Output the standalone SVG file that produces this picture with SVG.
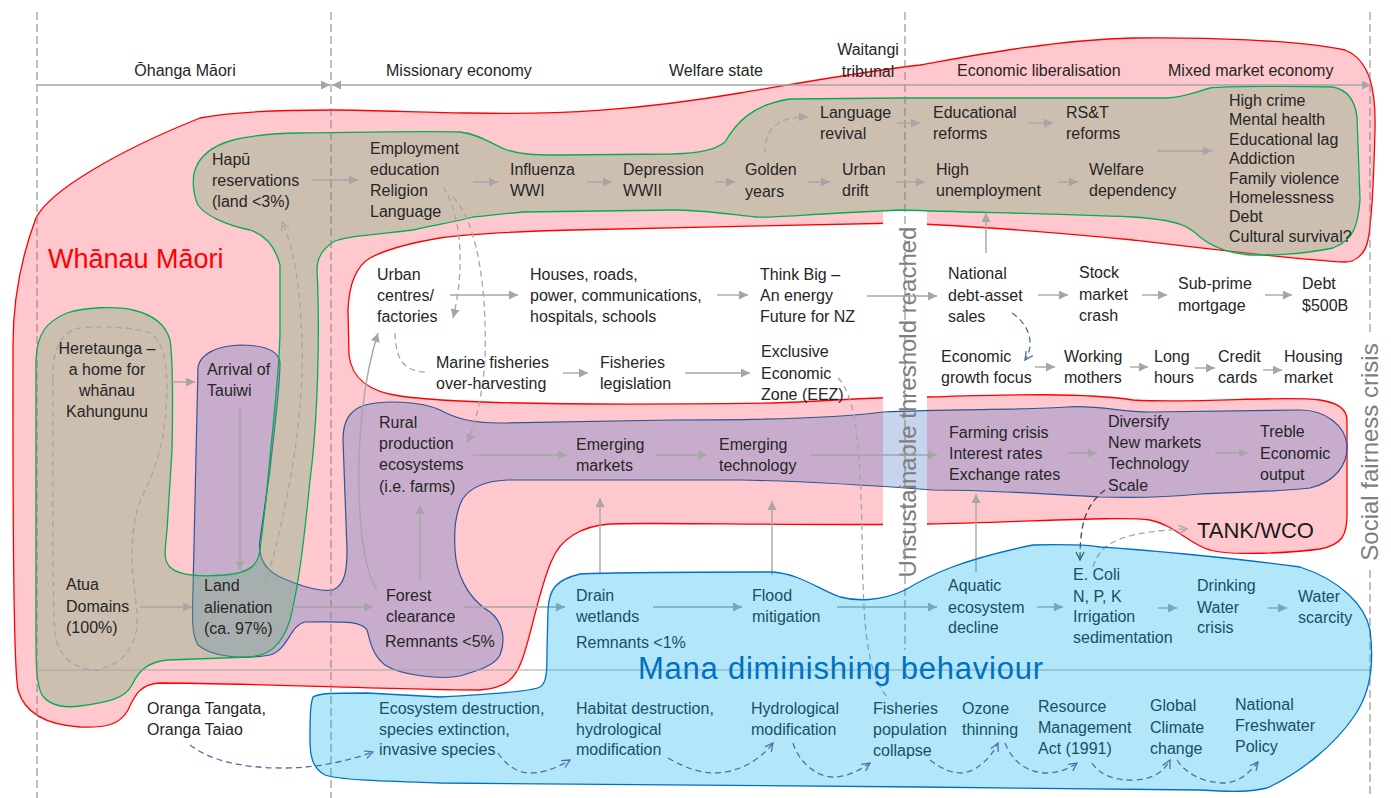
<svg xmlns="http://www.w3.org/2000/svg" width="1391" height="798" viewBox="0 0 1391 798">
<style>
.t{font-family:"Liberation Sans",Arial,sans-serif;font-size:16px;fill:#262626}
.big{font-family:"Liberation Sans",Arial,sans-serif}
.grid{stroke:#808080;stroke-width:1;stroke-dasharray:8,4;fill:none}
.ar{stroke:#A6A6A6;stroke-width:1.4;fill:none;marker-end:url(#ah)}
.da{stroke:#A6A6A6;stroke-width:1.3;fill:none;stroke-dasharray:6,4}
.bd{stroke:#4F6FA8;stroke-width:1.3;fill:none;stroke-dasharray:6,4;marker-end:url(#ob)}
</style>
<defs>
<marker id="ah" markerWidth="9" markerHeight="9" refX="9" refY="4.5" orient="auto-start-reverse" markerUnits="userSpaceOnUse"><path d="M0,0 L9,4.5 L0,9 z" fill="#A6A6A6"/></marker>
<marker id="og" markerWidth="10" markerHeight="10" refX="9" refY="5" orient="auto" markerUnits="userSpaceOnUse"><path d="M1,1 L9,5 L1,9" fill="none" stroke="#A6A6A6" stroke-width="1.3"/></marker>
<marker id="ob" markerWidth="10" markerHeight="10" refX="9" refY="5" orient="auto" markerUnits="userSpaceOnUse"><path d="M1,1 L9,5 L1,9" fill="none" stroke="#4F6FA8" stroke-width="1.3"/></marker>
<marker id="od" markerWidth="10" markerHeight="10" refX="9" refY="5" orient="auto" markerUnits="userSpaceOnUse"><path d="M1,1 L9,5 L1,9" fill="none" stroke="#404040" stroke-width="1.3"/></marker>
</defs>

<g id="whanau-maori">
<path d="M36,218 C50,190 120,150 200,118 C240,110 300,110 333,110 C380,110 430,113 470,113 C560,115 640,110 740,93 C800,83 860,72 920,65 C960,58 1050,40 1133,38 C1200,37 1300,40 1345,50 C1370,60 1376,90 1375,130 C1374,170 1372,220 1368,240 C1365,255 1355,262 1345,262 C1300,260 1200,248 1133,240 C1060,233 980,226 900,223 C800,225 650,228 573,230 C500,232 460,235 440,238 C410,243 385,250 370,258 C355,267 349,285 348,310 L349,355 C352,380 370,392 400,396 C420,399 440,400 460,401 C520,404 620,405 773,403 C830,401 870,397 927,397 C1000,395 1080,392 1133,400 C1200,404 1280,395 1320,400 C1340,403 1347,410 1347,420 L1347,515 C1347,535 1342,545 1320,549 C1290,553 1230,556 1210,550 C1190,545 1175,525 1150,520 C1120,516 1030,522 927,524 C800,526 650,522 610,524 C580,526 560,540 552,560 C540,585 530,640 522,660 C515,680 505,688 480,690 C400,690 250,683 160,683 C140,684 135,695 128,710 C120,725 105,728 80,727 C50,725 25,715 18,690 C12,660 13,400 13,345 C13,300 22,255 36,218 Z" fill="#FFC7CE" stroke="#FF0000" stroke-width="1.3"/>
<rect x="883" y="211" width="44" height="316" fill="#FFFFFF"/>
<text class="big" x="48" y="268" font-size="27" fill="#FF0000">Whānau Māori</text>
</g>

<g id="rural-band">
<path d="M198,367 C200,355 215,346 240,345 C262,345 278,350 280,362 C280,390 274,430 270,470 L260,540 C258,555 262,568 280,577 C300,586 320,592 333,590 C345,585 347,570 347,550 L343,440 C343,420 350,410 365,405 C385,400 420,401 440,410 C455,418 470,423 500,423 L673,420 C760,420 840,418 883,412 C950,409 1030,410 1067,407 C1100,405 1120,412 1150,412 L1300,410 C1325,410 1345,425 1347,445 C1348,465 1335,482 1310,488 C1280,492 1230,492 1200,494 C1170,497 1130,498 1100,497 C1050,494 990,490 933,490 C880,486 800,481 740,480 L507,480 C485,481 470,487 462,500 C455,515 454,530 455,550 C456,570 465,597 490,612 C503,622 506,640 500,655 C495,665 480,670 460,676 C440,680 400,675 385,665 C372,655 370,640 367,630 C360,620 340,622 305,622 C290,625 288,650 270,655 C240,660 210,656 198,645 C192,635 192,620 193,590 L198,367 Z" fill="#4472C4" fill-opacity="0.3" stroke="#2F5597" stroke-width="1.2"/>
</g>

<g id="hapu-band">
<path d="M300,133 C380,132 420,131 460,132 C480,134 495,146 507,150 C520,154 530,155 560,155 L673,154 C700,153 715,150 725,142 C735,125 750,105 790,99 L900,98 C1000,98 1100,98 1167,98 C1185,97 1195,92 1210,88 C1225,86 1300,86 1333,87 C1348,90 1355,100 1357,117 L1360,200 C1358,225 1354,240 1333,248 C1300,255 1270,255 1250,255 C1225,253 1210,245 1200,237 C1190,227 1180,220 1133,217 C1060,214 1000,213 900,210 L840,213 C800,215 770,218 757,217 C720,213 700,210 673,210 L523,212 C500,214 485,216 473,217 C460,221 440,224 413,230 C380,234 345,236 333,242 C322,250 317,258 317,270 C320,330 318,420 310,480 C305,530 300,580 290,620 C282,645 270,655 250,657 L167,660 C150,662 140,668 132,685 C125,698 110,702 80,706 C65,708 50,706 42,695 C37,685 36,670 36,640 L36,360 C37,335 45,322 67,313 C85,307 115,306 133,310 C150,314 165,322 170,340 C173,360 173,400 172,450 L167,530 C165,550 163,560 170,567 C178,575 200,577 225,575 C250,573 258,565 260,550 L266,500 C272,430 280,370 280,330 L280,265 C275,245 265,235 250,230 C225,225 205,215 198,205 C193,195 192,178 195,170 C200,155 215,145 233,140 C255,135 280,133 300,133 Z" fill="#6DB378" fill-opacity="0.35" stroke="#00B050" stroke-width="1.3"/>
<path d="M53,380 C52,350 60,332 80,328 C105,325 135,328 150,333 C162,340 167,360 167,390 C166,430 160,460 145,490 C135,510 132,530 132,560 C133,590 138,605 137,625 C135,650 120,665 97,670 C78,670 60,660 55,635 C52,600 53,450 53,380 Z" class="da"/>
</g>

<g id="timeline">
<line x1="37" y1="12" x2="37" y2="798" class="grid"/>
<line x1="331" y1="12" x2="331" y2="798" class="grid"/>
<line x1="905" y1="12" x2="905" y2="650" class="grid"/>
<line x1="1370" y1="12" x2="1370" y2="335" class="grid"/>
<line x1="1370" y1="570" x2="1370" y2="798" class="grid"/>
<line x1="37" y1="85" x2="330" y2="85" stroke="#A6A6A6" stroke-width="1.5" marker-end="url(#ah)"/>
<line x1="332" y1="85" x2="1371" y2="85" stroke="#A6A6A6" stroke-width="1.5" marker-start="url(#ah)" marker-end="url(#ah)"/>
<line x1="37" y1="670" x2="1372" y2="670" stroke="#A6A6A6" stroke-width="1.2"/>
<text class="t" x="185" y="76" text-anchor="middle">Ōhanga Māori</text>
<text class="t" x="386" y="76">Missionary economy</text>
<text class="t" x="669" y="76">Welfare state</text>
<text class="t" x="868" y="55" text-anchor="middle">Waitangi<tspan x="868" dy="22">tribunal</tspan></text>
<text class="t" x="957" y="76">Economic liberalisation</text>
<text class="t" x="1168" y="76">Mixed market economy</text>
<text class="big" transform="translate(916,402) rotate(-90)" text-anchor="middle" font-size="24" fill="#7F7F7F">Unsustainable threshold reached</text>
<text class="big" transform="translate(1378,452) rotate(-90)" text-anchor="middle" font-size="24" fill="#7F7F7F">Social fairness crisis</text>
</g>

<g id="connectors">
<path class="ar" d="M312,180 H358"/>
<path class="ar" d="M473,182 H498"/>
<path class="ar" d="M587,182 H612"/>
<path class="ar" d="M715,182 H735"/>
<path class="ar" d="M808,182 H830"/>
<path class="ar" d="M896,182 H925"/>
<path class="ar" d="M897,123 H920"/>
<path class="ar" d="M1028,123 H1053"/>
<path class="ar" d="M1058,182 H1078"/>
<path class="ar" d="M1157,151 H1212"/>
<path class="ar" d="M986,253 V213"/>
<path class="ar" d="M450,295 H518"/>
<path class="ar" d="M717,295 H748"/>
<path class="ar" d="M867,296 H937"/>
<path class="ar" d="M1038,295 H1068"/>
<path class="ar" d="M1142,295 H1167"/>
<path class="ar" d="M1265,295 H1292"/>
<path class="ar" d="M1035,367 H1055"/>
<path class="ar" d="M1130,367 H1148"/>
<path class="ar" d="M1195,368 H1215"/>
<path class="ar" d="M1263,370 H1282"/>
<path class="ar" d="M563,373 H588"/>
<path class="ar" d="M685,373 H750"/>
<path class="ar" d="M473,455 H567"/>
<path class="ar" d="M655,455 H707"/>
<path class="ar" d="M810,455 H937"/>
<path class="ar" d="M1067,453 H1097"/>
<path class="ar" d="M1215,453 H1248"/>
<path class="ar" d="M976,572 V494"/>
<path class="ar" d="M600,573 V498"/>
<path class="ar" d="M772,575 V501"/>
<path class="ar" d="M240,408 V570"/>
<path class="ar" d="M170,382 H195"/>
<path class="ar" d="M140,607 H192"/>
<path class="ar" d="M293,607 H373"/>
<path class="ar" d="M463,607 H565"/>
<path class="ar" d="M653,607 H742"/>
<path class="ar" d="M837,607 H937"/>
<path class="ar" d="M1037,607 H1063"/>
<path class="ar" d="M1158,608 H1177"/>
<path class="ar" d="M1268,608 H1287"/>
<path class="ar" d="M377,590 C355,560 350,420 378,333"/>
<path class="ar" d="M420,580 V505"/>
<path class="da" d="M265,585 C285,520 305,420 302,340 C300,290 295,250 282,222" marker-end="url(#og)"/>
<path class="da" d="M443,187 C462,215 465,270 453,318" marker-end="url(#ah)"/>
<path class="da" d="M453,197 C480,225 487,300 485,360 C482,400 475,425 467,443" marker-end="url(#ah)"/>
<path class="da" d="M765,153 C765,130 775,117 808,117" marker-end="url(#ah)"/>
<path class="da" d="M395,333 C396,355 400,372 428,372"/>
<path class="da" d="M838,378 C855,395 860,440 862,530 C863,620 865,670 887,697"/>
<path class="da" d="M1093,567 C1100,545 1115,532 1187,529" marker-end="url(#og)"/>
<path d="M1105,490 C1085,505 1080,525 1080,560" fill="none" stroke="#404040" stroke-width="1.3" stroke-dasharray="6,4" marker-end="url(#od)"/>
<path class="bd" d="M1012,313 C1030,325 1035,345 1025,360"/>
</g>

<g id="hapu-nodes">
<text class="t" x="212" y="165">Hapū<tspan x="212" dy="21">reservations</tspan><tspan x="212" dy="21">(land &lt;3%)</tspan></text>
<text class="t" x="370" y="154">Employment<tspan x="370" dy="21">education</tspan><tspan x="370" dy="21">Religion</tspan><tspan x="370" dy="21">Language</tspan></text>
<text class="t" x="510" y="175">Influenza<tspan x="510" dy="21">WWI</tspan></text>
<text class="t" x="623" y="175">Depression<tspan x="623" dy="21">WWII</tspan></text>
<text class="t" x="745" y="175">Golden<tspan x="745" dy="22">years</tspan></text>
<text class="t" x="842" y="175">Urban<tspan x="842" dy="21">drift</tspan></text>
<text class="t" x="820" y="118">Language<tspan x="820" dy="21">revival</tspan></text>
<text class="t" x="933" y="118">Educational<tspan x="933" dy="21">reforms</tspan></text>
<text class="t" x="1066" y="118">RS&amp;T<tspan x="1066" dy="21">reforms</tspan></text>
<text class="t" x="936" y="175">High<tspan x="936" dy="21">unemployment</tspan></text>
<text class="t" x="1089" y="175">Welfare<tspan x="1089" dy="21">dependency</tspan></text>
<text class="t" x="1229" y="106">High crime<tspan x="1229" dy="19.4">Mental health</tspan><tspan x="1229" dy="19.4">Educational lag</tspan><tspan x="1229" dy="19.4">Addiction</tspan><tspan x="1229" dy="19.4">Family violence</tspan><tspan x="1229" dy="19.4">Homelessness</tspan><tspan x="1229" dy="19.4">Debt</tspan><tspan x="1229" dy="19.4">Cultural survival?</tspan></text>
</g>

<g id="urban-nodes">
<text class="t" x="377" y="280">Urban<tspan x="377" dy="21">centres/</tspan><tspan x="377" dy="21">factories</tspan></text>
<text class="t" x="530" y="280">Houses, roads,<tspan x="530" dy="21">power, communications,</tspan><tspan x="530" dy="21">hospitals, schools</tspan></text>
<text class="t" x="760" y="280">Think Big –<tspan x="760" dy="21">An energy</tspan><tspan x="760" dy="21">Future for NZ</tspan></text>
<text class="t" x="948" y="279">National<tspan x="948" dy="22">debt-asset</tspan><tspan x="948" dy="21">sales</tspan></text>
<text class="t" x="1079" y="278">Stock<tspan x="1079" dy="22">market</tspan><tspan x="1079" dy="21">crash</tspan></text>
<text class="t" x="1178" y="289">Sub-prime<tspan x="1178" dy="22">mortgage</tspan></text>
<text class="t" x="1302" y="289">Debt<tspan x="1302" dy="22">$500B</tspan></text>
<text class="t" x="941" y="362">Economic<tspan x="941" dy="21">growth focus</tspan></text>
<text class="t" x="1064" y="362">Working<tspan x="1064" dy="21">mothers</tspan></text>
<text class="t" x="1154" y="362">Long<tspan x="1154" dy="21">hours</tspan></text>
<text class="t" x="1218" y="362">Credit<tspan x="1218" dy="21">cards</tspan></text>
<text class="t" x="1284" y="362">Housing<tspan x="1284" dy="21">market</tspan></text>
<text class="t" x="436" y="368">Marine fisheries<tspan x="436" dy="21">over-harvesting</tspan></text>
<text class="t" x="600" y="368">Fisheries<tspan x="600" dy="21">legislation</tspan></text>
<text class="t" x="761" y="357">Exclusive<tspan x="761" dy="22">Economic</tspan><tspan x="761" dy="21">Zone (EEZ)</tspan></text>
</g>

<g id="rural-nodes">
<text class="t" x="379" y="428">Rural<tspan x="379" dy="21">production</tspan><tspan x="379" dy="21">ecosystems</tspan><tspan x="379" dy="22">(i.e. farms)</tspan></text>
<text class="t" x="576" y="450">Emerging<tspan x="576" dy="21">markets</tspan></text>
<text class="t" x="719" y="450">Emerging<tspan x="719" dy="21">technology</tspan></text>
<text class="t" x="949" y="438">Farming crisis<tspan x="949" dy="21">Interest rates</tspan><tspan x="949" dy="21">Exchange rates</tspan></text>
<text class="t" x="1108" y="427">Diversify<tspan x="1108" dy="21">New markets</tspan><tspan x="1108" dy="21">Technology</tspan><tspan x="1108" dy="22">Scale</tspan></text>
<text class="t" x="1260" y="437">Treble<tspan x="1260" dy="22">Economic</tspan><tspan x="1260" dy="21">output</tspan></text>
<text class="big" x="1197" y="538" font-size="22" fill="#1A1A1A">TANK/WCO</text>
</g>

<g id="land-nodes">
<text class="t" x="107" y="354" text-anchor="middle">Heretaunga –<tspan x="107" dy="21">a home for</tspan><tspan x="107" dy="21">whānau</tspan><tspan x="107" dy="21">Kahungunu</tspan></text>
<text class="t" x="207" y="375">Arrival of<tspan x="207" dy="21">Tauiwi</tspan></text>
<text class="t" x="66" y="590">Atua<tspan x="66" dy="22">Domains</tspan><tspan x="66" dy="21">(100%)</tspan></text>
<text class="t" x="204" y="591">Land<tspan x="204" dy="22">alienation</tspan><tspan x="204" dy="21">(ca. 97%)</tspan></text>
<text class="t" x="386" y="601">Forest<tspan x="386" dy="21">clearance</tspan><tspan x="385" dy="25">Remnants &lt;5%</tspan></text>
</g>

<g id="water-nodes">
<text class="t" x="576" y="601">Drain<tspan x="576" dy="21">wetlands</tspan><tspan x="576" dy="26">Remnants &lt;1%</tspan></text>
<text class="t" x="752" y="601">Flood<tspan x="752" dy="21">mitigation</tspan></text>
<text class="t" x="948" y="591">Aquatic<tspan x="948" dy="22">ecosystem</tspan><tspan x="948" dy="20">decline</tspan></text>
<text class="t" x="1073" y="580">E. Coli<tspan x="1073" dy="22">N, P, K</tspan><tspan x="1073" dy="20">Irrigation</tspan><tspan x="1073" dy="21">sedimentation</tspan></text>
<text class="t" x="1197" y="591">Drinking<tspan x="1197" dy="22">Water</tspan><tspan x="1197" dy="20">crisis</tspan></text>
<text class="t" x="1298" y="602">Water<tspan x="1298" dy="21">scarcity</tspan></text>
<text class="t" x="147" y="714">Oranga Tangata,<tspan x="147" dy="21">Oranga Taiao</tspan></text>
<text class="t" x="379" y="714">Ecosystem destruction,<tspan x="379" dy="21">species extinction,</tspan><tspan x="379" dy="20">invasive species</tspan></text>
<text class="t" x="576" y="714">Habitat destruction,<tspan x="576" dy="21">hydrological</tspan><tspan x="576" dy="20">modification</tspan></text>
<text class="t" x="751" y="714">Hydrological<tspan x="751" dy="21">modification</tspan></text>
<text class="t" x="873" y="714">Fisheries<tspan x="873" dy="21">population</tspan><tspan x="873" dy="21">collapse</tspan></text>
<text class="t" x="962" y="714">Ozone<tspan x="962" dy="21">thinning</tspan></text>
<text class="t" x="1038" y="712">Resource<tspan x="1038" dy="21">Management</tspan><tspan x="1038" dy="21">Act (1991)</tspan></text>
<text class="t" x="1150" y="711">Global<tspan x="1150" dy="22">Climate</tspan><tspan x="1150" dy="21">change</tspan></text>
<text class="t" x="1235" y="710">National<tspan x="1235" dy="21">Freshwater</tspan><tspan x="1235" dy="21">Policy</tspan></text>
</g>

<g id="mana-diminishing">
<path d="M313,697 C320,693 330,693 367,693 L440,697 C480,695 530,692 540,687 C547,683 547,670 547,650 L548,610 C549,590 555,580 580,574 C620,572 720,572 773,572 C800,574 820,590 840,597 C855,601 880,602 905,590 C930,575 960,560 1033,545 C1060,544 1090,545 1100,547 C1150,550 1250,560 1300,567 C1340,580 1365,605 1370,630 C1374,660 1372,690 1355,715 C1335,745 1300,773 1267,788 C1250,792 1233,792 1200,790 L920,787 L440,783 C380,781 340,780 325,775 C312,768 310,755 310,740 C310,720 310,705 313,697 Z" fill="#00B0F0" fill-opacity="0.3" stroke="#0070C0" stroke-width="1.3"/>
<text class="big" x="638" y="679" font-size="31" fill="#0070C0" textLength="405">Mana diminishing behaviour</text>
</g>

<g id="mana-connectors">
<path class="bd" d="M190,745 C210,760 240,768 283,768 C320,768 350,760 373,752"/>
<path class="bd" d="M498,753 C508,768 520,773 530,773 C545,773 558,767 570,760"/>
<path class="bd" d="M668,758 C685,768 700,773 715,773 C740,772 760,760 773,743"/>
<path class="bd" d="M793,743 C798,760 815,777 833,777 C848,777 860,770 870,763"/>
<path class="bd" d="M930,760 C940,768 950,773 962,773 C975,772 990,760 998,743"/>
<path class="bd" d="M1005,743 C1012,760 1025,772 1045,773 C1060,773 1070,768 1077,763"/>
<path class="bd" d="M1092,763 C1100,775 1115,781 1135,780 C1155,779 1165,770 1170,760"/>
<path class="bd" d="M1177,760 C1187,775 1205,783 1225,783 C1240,782 1250,772 1258,762"/>
</g>
</svg>
